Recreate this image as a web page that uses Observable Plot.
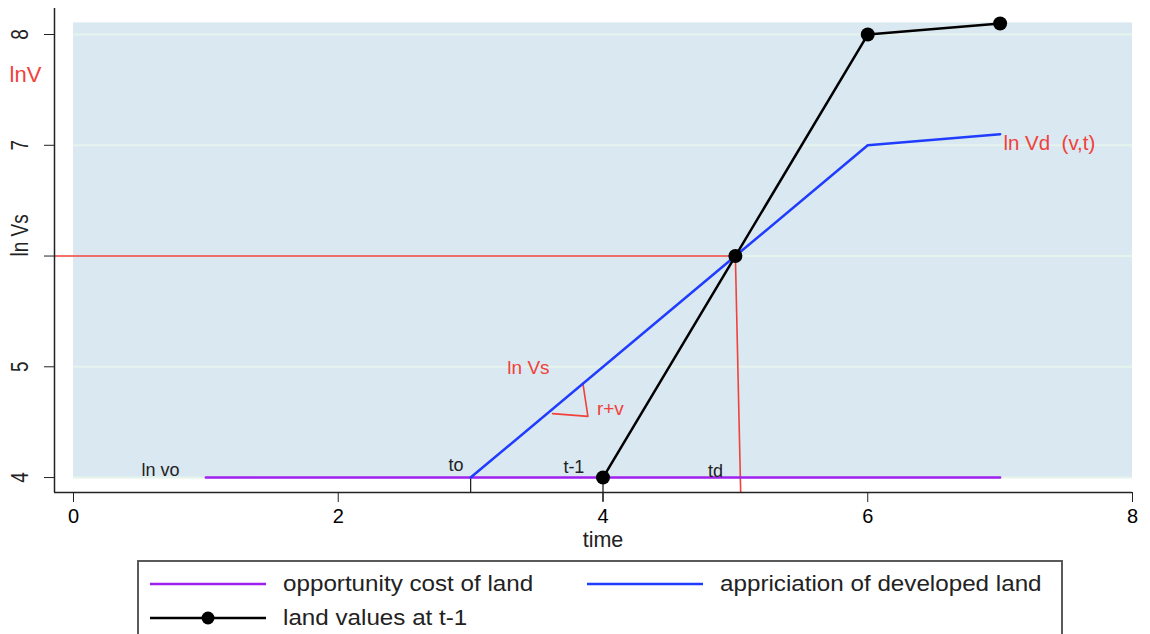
<!DOCTYPE html>
<html>
<head>
<meta charset="utf-8">
<script src="https://cdn.jsdelivr.net/npm/d3@7"></script>
<script src="https://cdn.jsdelivr.net/npm/@observablehq/plot@0.6"></script>
<style>
  html, body { margin: 0; padding: 0; background: #fff; width: 1150px; height: 634px; overflow: hidden; }
  body { font-family: "Liberation Sans", Arial, sans-serif; position: relative; }
  #chart { position: absolute; left: 0; top: 0; }
  #legend { position: absolute; left: 137px; top: 560px; width: 926px; height: 90px; border: 2px solid #5a5a5a; box-sizing: border-box; background: #fff; }
  .item { position: absolute; height: 24px; display: flex; align-items: center; font-size: 22px; color: #222; white-space: nowrap; }
  .item svg { margin-right: 17px; flex: none; }
  .item span { display: inline-block; transform: scaleX(1.1); transform-origin: left center; }
</style>
</head>
<body>
<div id="chart"></div>
<div id="legend"></div>
<script>
// ---- data ----
const opportunity = [ {t: 1, v: 4}, {t: 7, v: 4} ];           // opportunity cost of land
const appreciation = [ {t: 3, v: 4}, {t: 5, v: 6}, {t: 6, v: 7}, {t: 7, v: 7.1} ];  // appriciation of developed land
const landValues = [ {t: 4, v: 4}, {t: 5, v: 6}, {t: 6, v: 8}, {t: 7, v: 8.1} ];   // land values at t-1
const xTicks = [0, 2, 4, 6, 8];
const yTicks = [4, 5, 7, 8];
const yTickMarks = [4, 5, 6, 7, 8];
const annotBlack = [ {t: 0.657, v: 4.063, s: "ln vo"}, {t: 2.89, v: 4.11, s: "to"}, {t: 3.78, v: 4.09, s: "t-1"}, {t: 4.85, v: 4.06, s: "td"} ];
const annotRed = [ {t: 3.437, v: 4.993, s: "ln Vs"}, {t: 4.056, v: 4.623, s: "r+v"} ];
const slopeMarker = [ {t: 3.848, v: 4.853}, {t: 3.886, v: 4.552}, {t: 3.619, v: 4.577} ];
const legendItems = [
  {label: "opportunity cost of land", color: "#a020f0", dot: false},
  {label: "appriciation of developed land", color: "#1f3cff", dot: false},
  {label: "land values at t-1", color: "#000000", dot: true}
];

// ---- layout ----
const xmin = -0.1435, xmax = 8, ymin = 3.865, ymax = 8.235;
const red = "#f2403a";
const font = "Liberation Sans, Arial, sans-serif";

const chart = Plot.plot({
  width: 1150,
  height: 556,
  marginLeft: 54,
  marginRight: 18,
  marginTop: 8,
  marginBottom: 64,
  style: {fontFamily: font, background: "transparent"},
  x: {domain: [xmin, xmax], axis: null},
  y: {domain: [ymin, ymax], axis: null},
  marks: [
    Plot.rect([{x1: 0, x2: 8, y1: 4, y2: 8.105}], {x1: "x1", x2: "x2", y1: "y1", y2: "y2", fill: "#d9e8f1"}),
    Plot.ruleY(yTickMarks, {x1: 0, x2: 8, stroke: "#e6f4ec", strokeWidth: 2}),
    // reference lines
    Plot.ruleY([6], {x1: xmin, x2: 5, stroke: red, strokeWidth: 1.6}),
    Plot.link([{a: 5, b: 6, c: 5.04, d: ymin}], {x1: "a", y1: "b", x2: "c", y2: "d", stroke: red, strokeWidth: 1.6}),
    Plot.line(slopeMarker, {x: "t", y: "v", stroke: red, strokeWidth: 1.6}),
    Plot.ruleX([3], {y1: 4, y2: ymin, stroke: "#222", strokeWidth: 1.3}),
    Plot.ruleX([4], {y1: 4, y2: 3.78, stroke: "#222", strokeWidth: 1.3}),
    // series
    Plot.line(opportunity, {x: "t", y: "v", stroke: "#a020f0", strokeWidth: 2.5}),
    Plot.line(appreciation, {x: "t", y: "v", stroke: "#1f3cff", strokeWidth: 2.5}),
    Plot.line(landValues, {x: "t", y: "v", stroke: "#000", strokeWidth: 2.5}),
    Plot.dot(landValues, {x: "t", y: "v", r: 7, fill: "#000"}),
    // annotations
    Plot.text(annotBlack, {x: "t", y: "v", text: "s", fontSize: 18, fill: "#222"}),
    Plot.text(annotRed, {x: "t", y: "v", text: "s", fontSize: 19, fill: red}),
    Plot.text(["ln Vd\u00a0\u00a0(v,t)"], {x: 7.025, y: 7.016, text: d => d, textAnchor: "start", fontSize: 20.5, fill: red}),
    Plot.text(["lnV"], {x: -0.3625, y: 7.639, text: d => d, fontSize: 22, fill: red}),
    // axes
    Plot.ruleX([xmin], {stroke: "#222", strokeWidth: 1.5}),
    Plot.ruleY([ymin], {stroke: "#222", strokeWidth: 1.5}),
    Plot.axisX({ticks: xTicks, tickSize: 10, tickPadding: 6, fontSize: 20, label: null, stroke: "#222"}),
    Plot.axisY({ticks: yTickMarks, tickSize: 10, tickFormat: () => "", label: null, stroke: "#222"}),
    Plot.text(yTicks, {x: xmin, y: d => d, text: d => String(d), rotate: -90, dx: -34, fontSize: 19, fill: "#222", className: "ylab"}),
    Plot.text(["ln Vs"], {x: xmin, y: 6.186, text: d => d, rotate: -90, dx: -34, fontSize: 19, fill: "#222", className: "ylab"}),
    Plot.text(["time"], {x: 4, y: ymin, text: d => d, dy: 48, fontSize: 21.5, fill: "#222"})
  ]
});
// rotated y labels in the reference are taller across the axis than wide
d3.select(chart).selectAll(".ylab text").each(function() {
  const tr = this.getAttribute("transform") || "";
  this.setAttribute("transform", tr + " scale(1,1.3)");
});
document.getElementById("chart").appendChild(chart);

// ---- legend ----
const legend = document.getElementById("legend");
const positions = [ {left: 11, top: 10}, {left: 448, top: 10}, {left: 11, top: 44} ];
legendItems.forEach((it, i) => {
  const div = document.createElement("div");
  div.className = "item";
  div.style.left = positions[i].left + "px";
  div.style.top = positions[i].top + "px";
  const ns = "http://www.w3.org/2000/svg";
  const svg = document.createElementNS(ns, "svg");
  svg.setAttribute("width", 116);
  svg.setAttribute("height", 24);
  const line = document.createElementNS(ns, "line");
  line.setAttribute("x1", 0); line.setAttribute("x2", 116);
  line.setAttribute("y1", 12); line.setAttribute("y2", 12);
  line.setAttribute("stroke", it.color); line.setAttribute("stroke-width", 2.5);
  svg.appendChild(line);
  if (it.dot) {
    const c = document.createElementNS(ns, "circle");
    c.setAttribute("cx", 58); c.setAttribute("cy", 12); c.setAttribute("r", 6.5);
    c.setAttribute("fill", it.color);
    svg.appendChild(c);
  }
  div.appendChild(svg);
  const span = document.createElement("span");
  span.textContent = it.label;
  div.appendChild(span);
  legend.appendChild(div);
});
</script>
</body>
</html>
